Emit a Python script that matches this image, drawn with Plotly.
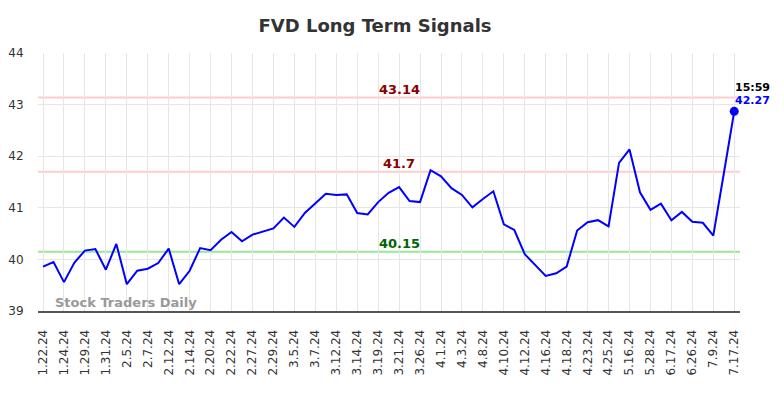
import plotly.graph_objects as go

label_dates = ["1.22.24","1.24.24","1.29.24","1.31.24","2.5.24","2.7.24","2.12.24","2.14.24",
               "2.20.24","2.22.24","2.27.24","2.29.24","3.5.24","3.7.24","3.12.24","3.14.24",
               "3.19.24","3.21.24","3.26.24","4.1.24","4.3.24","4.8.24","4.10.24","4.12.24",
               "4.16.24","4.18.24","4.23.24","4.25.24","5.16.24","5.28.24","6.17.24","6.26.24",
               "7.9.24","7.17.24"]
between_dates = ["1.23.24","1.26.24","1.30.24","2.2.24","2.6.24","2.9.24","2.13.24","2.16.24",
                 "2.21.24","2.26.24","2.28.24","3.4.24","3.6.24","3.11.24","3.13.24","3.18.24",
                 "3.20.24","3.25.24","3.28.24","4.2.24","4.5.24","4.9.24","4.11.24","4.15.24",
                 "4.17.24","4.22.24","4.24.24","5.6.24","5.22.24","6.6.24","6.21.24","7.2.24",
                 "7.15.24"]
dates = []
for k, d in enumerate(label_dates):
    dates.append(d)
    if k < len(between_dates):
        dates.append(between_dates[k])

prices = [39.86, 39.95, 39.56, 39.94, 40.17, 40.20, 39.80, 40.30, 39.52, 39.78,
          39.82, 39.93, 40.21, 39.52, 39.78, 40.22, 40.18, 40.38, 40.53, 40.35,
          40.48, 40.54, 40.60, 40.81, 40.63, 40.90, 41.09, 41.27, 41.25, 41.26,
          40.90, 40.87, 41.11, 41.29, 41.40, 41.13, 41.11, 41.73, 41.61, 41.38,
          41.25, 41.01, 41.17, 41.32, 40.68, 40.57, 40.10, 39.89, 39.68, 39.73,
          39.86, 40.56, 40.72, 40.76, 40.64, 41.87, 42.13, 41.30, 40.96, 41.08,
          40.76, 40.92, 40.73, 40.71, 40.46, 41.66, 42.87]

resistance_levels = [43.14, 41.7]
support_levels = [40.15]
last_time = "15:59"
last_label = "42.27"
y_ticks = [39, 40, 41, 42, 43, 44]

xi = list(range(len(dates)))
fig = go.Figure()
fig.add_trace(go.Scatter(x=xi, y=prices, mode="lines",
                         line=dict(color="#0000ff", width=2), hoverinfo="skip"))
fig.add_trace(go.Scatter(x=[xi[-1]], y=[prices[-1]], mode="markers",
                         marker=dict(color="#0000ff", size=9), hoverinfo="skip"))

for lv in resistance_levels:
    fig.add_hline(y=lv, line=dict(color="#ffcccc", width=2), layer="below")
    fig.add_annotation(x=34, y=lv, text=f"<b>{lv:g}</b>", showarrow=False, yshift=8,
                       font=dict(color="#8b0000", size=13, family="DejaVu Sans"))
for lv in support_levels:
    fig.add_hline(y=lv, line=dict(color="#99e699", width=2), layer="below")
    fig.add_annotation(x=34, y=lv, text=f"<b>{lv:g}</b>", showarrow=False, yshift=8,
                       font=dict(color="#006400", size=13, family="DejaVu Sans"))

fig.add_annotation(x=xi[-1], y=prices[-1], text=f"<b>{last_time}</b>", showarrow=False,
                   xanchor="left", xshift=-1, yshift=24,
                   font=dict(color="#000000", size=11, family="DejaVu Sans"))
fig.add_annotation(x=xi[-1], y=prices[-1], text=f"<b>{last_label}</b>", showarrow=False,
                   xanchor="left", xshift=-1, yshift=11,
                   font=dict(color="#0000ff", size=11, family="DejaVu Sans"))
fig.add_annotation(x=1, y=39.17, text="<b>Stock Traders Daily</b>", showarrow=False,
                   xanchor="left", xshift=-1,
                   font=dict(color="#999999", size=13, family="DejaVu Sans"))

fig.update_layout(
    width=776, height=390,
    margin=dict(l=30, r=44, t=45, b=87),
    paper_bgcolor="white", plot_bgcolor="white",
    showlegend=False,
    title=dict(text="<b>FVD Long Term Signals</b>", x=0.473, xanchor="center",
               y=0.954, yanchor="middle",
               font=dict(size=18, color="#333333", family="DejaVu Sans")),
    font=dict(family="DejaVu Sans", color="#333333"),
)
fig.update_xaxes(range=[-0.48, 66.55], tickmode="array", automargin=False,
                 tickvals=xi[::2], ticktext=label_dates, tickangle=-90,
                 tickfont=dict(size=12, color="#333333"),
                 ticks="outside", ticklen=12, tickcolor="rgba(0,0,0,0)",
                 showgrid=True, gridcolor="#e6e6e6", gridwidth=1,
                 showline=True, linecolor="#555555", linewidth=2, zeroline=False)
fig.update_yaxes(range=[39, 44], tickvals=y_ticks, tickfont=dict(size=12, color="#333333"),
                 automargin=False, ticks="outside", ticklen=11, tickcolor="rgba(0,0,0,0)",
                 showgrid=True, gridcolor="#e6e6e6", gridwidth=1, zeroline=False,
                 showline=False)

fig.write_html("out.html")
